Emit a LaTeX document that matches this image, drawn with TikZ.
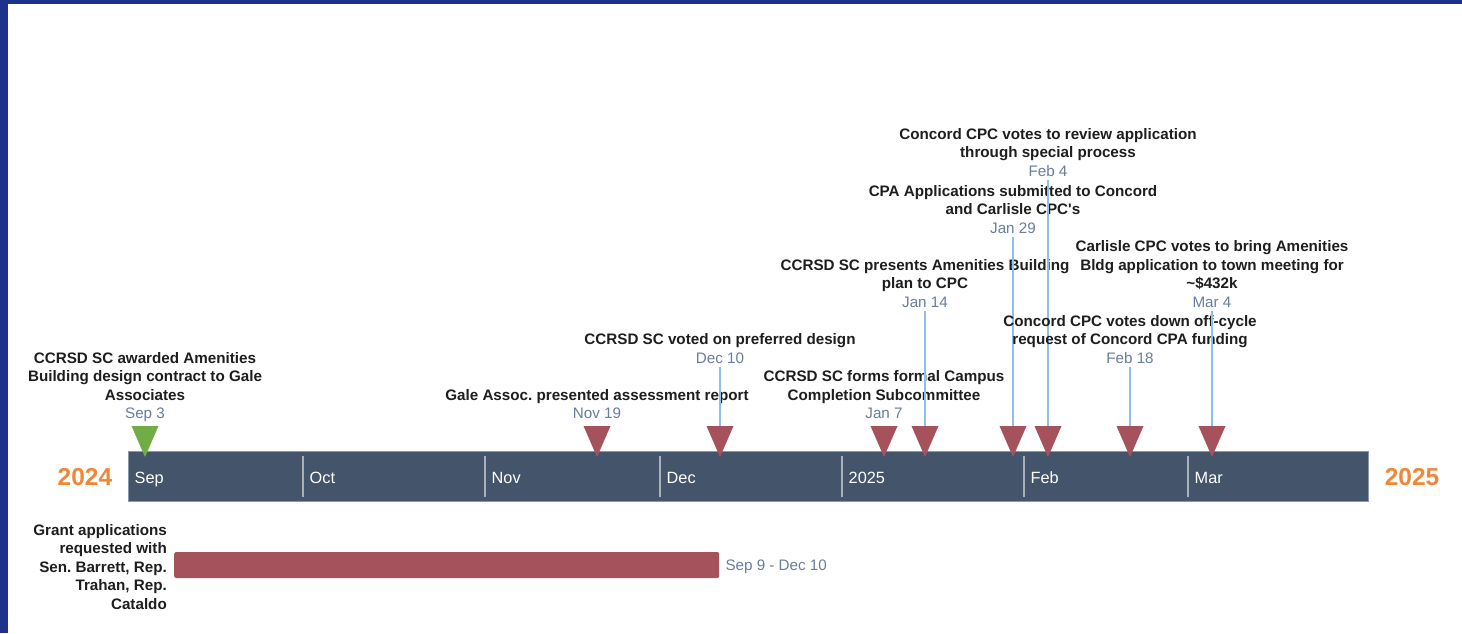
\documentclass[tikz,border=0pt]{standalone}
\usepackage{fontspec}
\setmainfont{Liberation Sans}
\usetikzlibrary{positioning}
\frenchspacing
\definecolor{azulborda}{RGB}{29,50,138}
\definecolor{ardosia}{RGB}{68,84,106}
\definecolor{contorno}{RGB}{140,152,170}
\definecolor{divisao}{RGB}{170,176,186}
\definecolor{vinho}{RGB}{165,82,92}
\definecolor{verdeclaro}{RGB}{112,173,71}
\definecolor{azulhaste}{RGB}{143,193,232}
\definecolor{azuldata}{RGB}{106,125,158}
\definecolor{textopreto}{RGB}{30,30,30}
\definecolor{laranja}{RGB}{240,135,55}
\begin{document}
\begin{tikzpicture}[
  x=1pt, y=-1pt,
  every node/.style={inner sep=0pt, font=\fontsize{15.2}{18.4}\selectfont},
  evento/.style={font=\bfseries\fontsize{15.2}{18.4}\selectfont, text=textopreto, align=center, anchor=base},
  dia/.style={text=azuldata, anchor=base, outer sep=3.5pt},
  mes/.style={text=white, anchor=base west, font=\fontsize{16.3}{18}\selectfont},
  ano/.style={text=laranja, anchor=base, font=\bfseries\fontsize{24.5}{26}\selectfont},
  haste/.style={draw=azulhaste, line width=1.1pt}
]
\tikzset{
  vermelho/.style={fill=vinho},
  verde/.style={fill=verdeclaro},
  pics/marco/.style={code={\fill[#1] (-13.5,0) -- (13.5,0) -- (0,31) -- cycle;}}
}
\fill[white] (0,0) rectangle (1462,633);
\useasboundingbox (0,0) rectangle (1462,633);
\fill[azulborda] (0,0) rectangle (1462,4);
\fill[azulborda] (0,0) rectangle (8,633);

% eixo dos meses
\node[fill=ardosia, draw=contorno, line width=0.8pt, minimum width=1240pt, minimum height=50pt] (eixo) at (748,476) {};
\draw[divisao, line width=1.5pt] (303,456) -- (303,497);
\draw[divisao, line width=1.5pt] (485,456) -- (485,497);
\draw[divisao, line width=1.5pt] (660,456) -- (660,497);
\draw[divisao, line width=1.5pt] (842,456) -- (842,497);
\draw[divisao, line width=1.5pt] (1024,456) -- (1024,497);
\draw[divisao, line width=1.5pt] (1188,456) -- (1188,497);
\node[mes] (set) at (134.5,483) {Sep};
\node[mes] (out) at (309.5,483) {Oct};
\node[mes] (nov) at (491.5,483) {Nov};
\node[mes] (dez) at (666.5,483) {Dec};
\node[mes] (jan) at (848.5,483) {2025};
\node[mes] (fev) at (1030.5,483) {Feb};
\node[mes] (mar) at (1194.5,483) {Mar};
\node[ano] (ano1) at (85,485.5) {2024};
\node[ano] (ano2) at (1412,485.5) {2025};

% marcos (texto ancorado na ultima linha)
\node[dia] (d-set3) at (145,418.5) {Sep 3};
\node[evento] (e-set3) at (145,400.1) {CCRSD SC awarded Amenities\\Building design contract to Gale\\Associates};
\coordinate (m-set3) at (145,426);
\pic at (m-set3) {marco=verde};

\node[dia] (d-nov19) at (597,418.5) {Nov 19};
\node[evento] (e-nov19) at (597,400.1) {Gale Assoc. presented assessment report};
\coordinate (m-nov19) at (597,426);
\pic at (m-nov19) {marco=vermelho};

\node[dia] (d-dez10) at (720,363) {Dec 10};
\node[evento] (e-dez10) at (720,344.6) {CCRSD SC voted on preferred design};
\coordinate (m-dez10) at (720,426);
\draw[haste] (d-dez10) -- (m-dez10);
\pic at (m-dez10) {marco=vermelho};

\node[dia] (d-jan7) at (884,418.5) {Jan 7};
\node[evento] (e-jan7) at (884,400.1) {CCRSD SC forms formal Campus\\Completion Subcommittee};
\coordinate (m-jan7) at (884,426);
\pic at (m-jan7) {marco=vermelho};

\node[dia] (d-jan14) at (925,307) {Jan 14};
\node[evento] (e-jan14) at (925,288.6) {CCRSD SC presents Amenities Building\\plan to CPC};
\coordinate (m-jan14) at (925,426);
\draw[haste] (d-jan14) -- (m-jan14);
\pic at (m-jan14) {marco=vermelho};

\node[dia] (d-jan29) at (1013,233) {Jan 29};
\node[evento] (e-jan29) at (1013,214.6) {CPA Applications submitted to Concord\\and Carlisle CPC\textquotesingle s};
\coordinate (m-jan29) at (1013,426);
\draw[haste] (d-jan29) -- (m-jan29);
\pic at (m-jan29) {marco=vermelho};

\node[dia] (d-fev4) at (1048,176) {Feb 4};
\node[evento] (e-fev4) at (1048,157.6) {Concord CPC votes to review application\\through special process};
\coordinate (m-fev4) at (1048,426);
\draw[haste] (d-fev4) -- (m-fev4);
\pic at (m-fev4) {marco=vermelho};

\node[dia] (d-fev18) at (1130,363) {Feb 18};
\node[evento] (e-fev18) at (1130,344.6) {Concord CPC votes down off-cycle\\request of Concord CPA funding};
\coordinate (m-fev18) at (1130,426);
\draw[haste] (d-fev18) -- (m-fev18);
\pic at (m-fev18) {marco=vermelho};

\node[dia] (d-mar4) at (1212,307) {Mar 4};
\node[evento] (e-mar4) at (1212,288.6) {Carlisle CPC votes to bring Amenities\\Bldg application to town meeting for\\\textasciitilde\$432k};
\coordinate (m-mar4) at (1212,426);
\draw[haste] (d-mar4) -- (m-mar4);
\pic at (m-mar4) {marco=vermelho};

% faixa de periodo
\node[evento, align=right, anchor=base east] (g-texto) at (167,609) {Grant applications\\requested with\\Sen. Barrett, Rep.\\Trahan, Rep.\\Cataldo};
\node[fill=vinho, rounded corners=2pt, minimum width=545pt, minimum height=26pt, anchor=west] (g-barra) at (174,565) {};
\node[dia, anchor=base west, outer sep=0pt] (g-data) at (725.5,570.5) {Sep 9 - Dec 10};
\end{tikzpicture}
\end{document}
